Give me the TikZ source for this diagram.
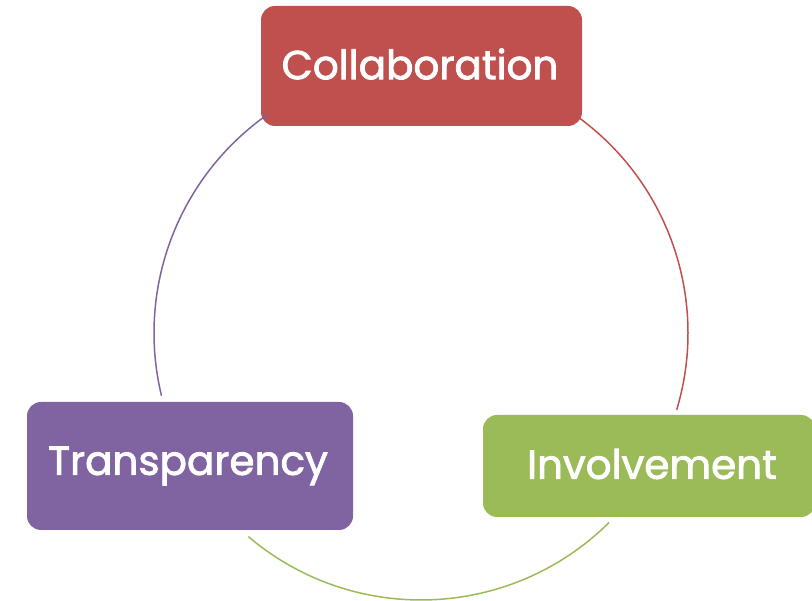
\documentclass[tikz,border=0pt]{standalone}
\usepackage{fontspec}
\newfontfamily\boxfont{Poppins}[FakeBold=2]
\usetikzlibrary{calc}
\definecolor{cred}{HTML}{C0504D}
\definecolor{cpurple}{HTML}{8064A2}
\definecolor{cgreen}{HTML}{9BBB59}
\begin{document}
\begin{tikzpicture}[x=1pt,y=1pt,
  box/.style={rounded corners=14pt,inner sep=0pt},
  lbl/.style={text=white,inner sep=0pt,font=\boxfont\fontsize{40.5}{48}\selectfont},
  ring/.style={line width=1.5pt}]
\useasboundingbox (0,0) rectangle (812,601);
% boxes (y up: y = 601 - ypixel)
\node[box,fill=cred,minimum width=321pt,minimum height=120pt] (collab) at (421.5,535) {};
\node[lbl] (collabt) at (420,537) {Collaboration};
\node[box,fill=cpurple,minimum width=326pt,minimum height=128pt] (transp) at (190,135) {};
\node[lbl] (transpt) at (188,135) {Transparency};
\node[box,fill=cgreen,minimum width=332pt,minimum height=102pt] (invol) at (649,135) {};
\node[lbl] (involt) at (652,137) {Involvement};
% ring arcs
\coordinate (c) at (421,268);
\coordinate (a1) at ($(c)+(54:267)$);
\coordinate (a2) at ($(c)+(125:267)$);
\coordinate (a3) at ($(c)+(-45.2:267)$);
\draw[ring,cred] (a1) arc[start angle=54,end angle=-16.7,radius=267];
\draw[ring,cpurple] (a2) arc[start angle=125,end angle=193.6,radius=267];
\draw[ring,cgreen] (a3) arc[start angle=-45.2,end angle=-130.3,radius=267];
\end{tikzpicture}
\end{document}
